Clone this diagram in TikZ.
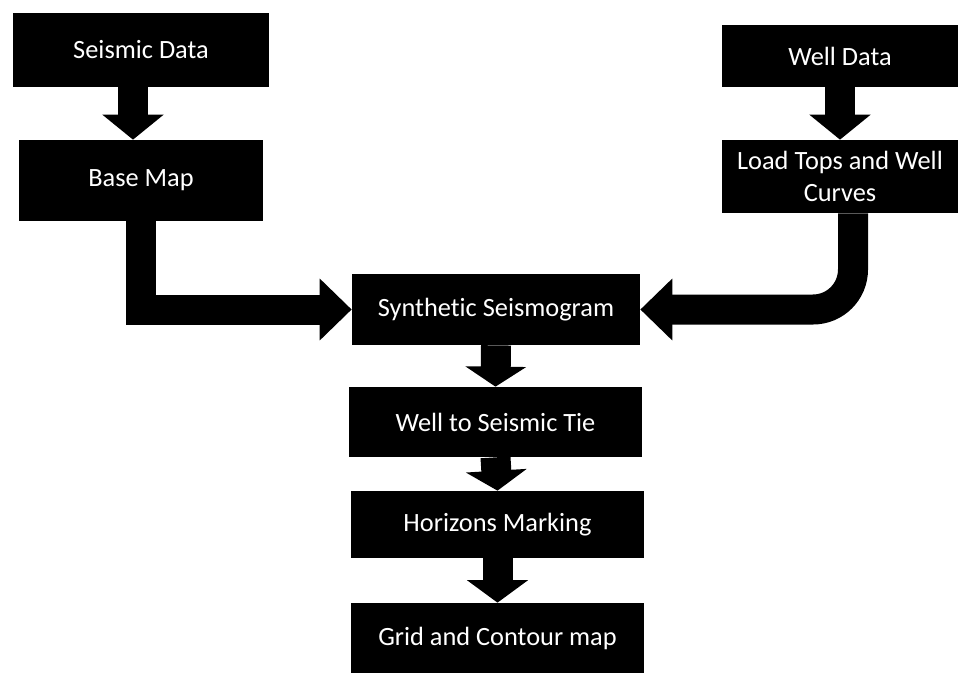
\documentclass[tikz,border=0pt]{standalone}
\usepackage{fontspec}
\setmainfont[Ligatures=NoCommon]{Carlito}
\usetikzlibrary{arrows.meta}

\tikzset{
    stage/.style={fill=black, text=white, align=center, font=\fontsize{15}{18}\selectfont},
    flowarrow/.style={line width=0.6cm, -{Triangle[length=#1, width=1.2cm]}},
    flowarrow/.default=0.5cm
}

\begin{document}
\begin{tikzpicture}[x=0.02cm, y=-0.02cm]
    \useasboundingbox (0,0) rectangle (960,673);

    % Seismic branch
    \node[stage, minimum width=5.12cm, minimum height=1.48cm] (seis) at (141,50) {Seismic Data};
    \node[stage, minimum width=4.88cm, minimum height=1.62cm] (base) at (141,180.5) {Base Map};

    % Well branch
    \node[stage, minimum width=4.72cm, minimum height=1.24cm] (well) at (840,56) {Well Data};
    \node[stage, minimum width=4.72cm, minimum height=1.46cm] (tops) at (840,176.5) {Load Tops and Well\\Curves};

    % Main column
    \node[stage, minimum width=5.76cm, minimum height=1.42cm] (synth) at (496,309.5) {Synthetic Seismogram};
    \node[stage, minimum width=5.86cm, minimum height=1.40cm] (tie) at (495.5,422) {Well to Seismic Tie};
    \node[stage, minimum width=5.86cm, minimum height=1.34cm] (horiz) at (497.5,524.5) {Horizons Marking};
    \node[stage, minimum width=5.86cm, minimum height=1.40cm] (grid) at (497.5,638) {Grid and Contour map};

    % Branch arrows
    \draw[flowarrow] ([xshift=-0.16cm]seis.south) -- ([xshift=-0.16cm]base.north);
    \draw[flowarrow] (well.south) -- (tops.north);

    % Joining arrows
    \draw[flowarrow=0.64cm] (base.south) |- (synth.west);
    \draw[flowarrow=0.64cm, rounded corners=0.8cm] ([xshift=0.26cm]tops.south) |- (synth.east);

    % Down the column
    \draw[flowarrow=0.4cm] (synth.south) -- (tie.north);
    \draw[flowarrow=0.4cm] (tie.south) -- (horiz.north);
    \draw[flowarrow=0.45cm] (horiz.south) -- (grid.north);

\end{tikzpicture}
\end{document}
